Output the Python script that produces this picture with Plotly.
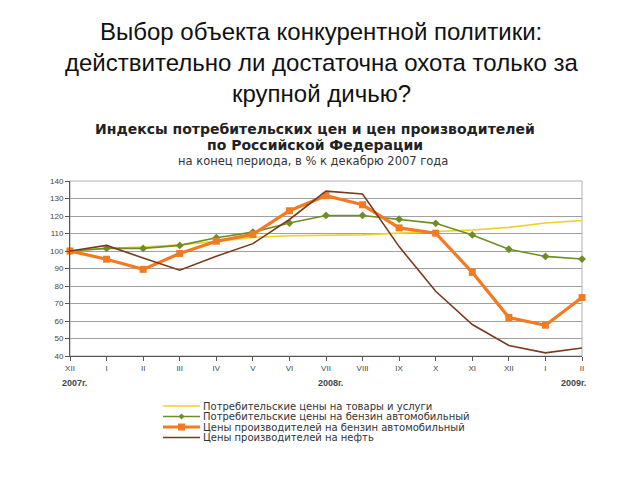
import plotly.graph_objects as go

months = ["XII", "I", "II", "III", "IV", "V", "VI", "VII", "VIII", "IX", "X", "XI", "XII", "I", "II"]
x_idx = list(range(len(months)))

cpi_all = [100, 101.5, 102.3, 103.5, 105.5, 107.8, 108.7, 109.1, 109.2, 110.2, 111, 112, 113.5, 116, 117.4]
cpi_petrol = [100, 101.5, 101.5, 103.2, 107.6, 110.8, 116, 120.3, 120.3, 118.2, 115.8, 109.2, 101, 96.9, 95.4]
ppi_petrol = [100, 95.3, 89.5, 98.6, 105.6, 109.5, 123, 131.6, 126.4, 113.2, 110.2, 87.8, 62, 57.6, 73.4]
ppi_oil = [100, 103.2, 96, 89, 97, 104.2, 118, 134.2, 132.6, 102.5, 77, 58, 46, 41.8, 44.6]
y_ticks = [40, 50, 60, 70, 80, 90, 100, 110, 120, 130, 140]
year_labels = ["2007г.", "2008г.", "2009г."]

names = [
    "Потребительские цены на товары и услуги",
    "Потребительские цены на бензин автомобильный",
    "Цены производителей на бензин автомобильный",
    "Цены производителей на нефть",
]
colors = ["#EFD12E", "#6E8E25", "#F47A22", "#7A3B1C"]

W, H = 640, 480
OFF = 8  # page body margin
# plot area in screen pixels: x 70..582, y 181..356
L, T = 70 - OFF, 181 - OFF
R, B = W - (582 - OFF), H - (356 - OFF)
PW, PH = W - L - R, H - T - B


def px_x(x):
    return (x - OFF - L) / PW


def px_y(y):
    return (H - B - (y - OFF)) / PH


fig = go.Figure()
fig.add_trace(go.Scatter(x=x_idx, y=cpi_all, mode="lines", name=names[0],
                         line=dict(color=colors[0], width=1.6), cliponaxis=False))
fig.add_trace(go.Scatter(x=x_idx, y=cpi_petrol, mode="lines+markers", name=names[1],
                         line=dict(color=colors[1], width=1.6),
                         marker=dict(symbol="diamond", size=6, color=colors[1]), cliponaxis=False))
fig.add_trace(go.Scatter(x=x_idx, y=ppi_petrol, mode="lines+markers", name=names[2],
                         line=dict(color=colors[2], width=3.2),
                         marker=dict(symbol="square", size=7, color=colors[2]), cliponaxis=False))
fig.add_trace(go.Scatter(x=x_idx, y=ppi_oil, mode="lines", name=names[3],
                         line=dict(color=colors[3], width=1.6), cliponaxis=False))

font_family = "Liberation Sans, Arial, sans-serif"

fig.update_layout(
    width=W, height=H,
    paper_bgcolor="white", plot_bgcolor="white",
    margin=dict(l=L, r=R, t=T, b=B, autoexpand=False),
    font=dict(family=font_family, color="#222"),
    showlegend=False,
    xaxis=dict(range=[0, 14], tickvals=x_idx, ticktext=months,
               tickfont=dict(size=8, color="#444"), showgrid=False,
               showline=True, linecolor="#555", linewidth=1, mirror=False,
               ticks="outside", ticklen=4, tickcolor="#555", zeroline=False),
    yaxis=dict(range=[40, 140], tickvals=y_ticks,
               tickfont=dict(size=8, color="#444"), showgrid=True,
               gridcolor="#a0a0a0", gridwidth=1,
               showline=True, linecolor="#555", linewidth=1,
               ticks="outside", ticklen=4, tickcolor="#555", zeroline=False),
)

# frame top/right
fig.add_shape(type="rect", xref="paper", yref="paper", x0=0, y0=0, x1=1, y1=1,
              line=dict(color="#b0b0b0", width=1), layer="below")

title_lines = ["Выбор объекта конкурентной политики:",
               "действительно ли достаточна охота только за",
               "крупной дичью?"]
for yy, line in zip([31, 62, 93], title_lines):
    fig.add_annotation(text=line, xref="paper", yref="paper", x=px_x(321), y=px_y(yy),
                       xanchor="center", yanchor="middle", showarrow=False,
                       font=dict(size=24, color="#111", family=font_family))

fig.add_annotation(text="<b>Индексы потребительских цен и цен производителей</b>",
                   xref="paper", yref="paper", x=px_x(315), y=px_y(129), xanchor="center", yanchor="middle",
                   showarrow=False, font=dict(size=14, color="#222", family="DejaVu Sans, sans-serif"))
fig.add_annotation(text="<b>по Российской Федерации</b>",
                   xref="paper", yref="paper", x=px_x(315), y=px_y(145), xanchor="center", yanchor="middle",
                   showarrow=False, font=dict(size=14, color="#222", family="DejaVu Sans, sans-serif"))
fig.add_annotation(text="на конец периода, в % к декабрю 2007 года",
                   xref="paper", yref="paper", x=px_x(313), y=px_y(160.5), xanchor="center", yanchor="middle",
                   showarrow=False, font=dict(size=11.5, color="#333", family="DejaVu Sans, sans-serif"))

for xv, txt, anc in zip([0, 7, 14], year_labels, ["center", "center", "right"]):
    fig.add_annotation(text="<b>" + txt + "</b>", xref="x", yref="paper", x=xv, y=px_y(383),
                       xanchor=anc, yanchor="middle", showarrow=False, xshift=(6 if anc == "right" else 4),
                       font=dict(size=9, color="#444", family=font_family))

# manual legend
leg_rows = [406, 416.5, 427, 437.5]
lx0, lx1 = 163, 200
for i, (yy, nm, col) in enumerate(zip(leg_rows, names, colors)):
    w = 3.2 if i == 2 else 1.6
    fig.add_shape(type="line", xref="paper", yref="paper",
                  x0=px_x(lx0), x1=px_x(lx1), y0=px_y(yy), y1=px_y(yy),
                  line=dict(color=col, width=w))
    xm = (lx0 + lx1) / 2
    if i == 1:
        d = 3
        path = (f"M {px_x(xm - d)} {px_y(yy)} L {px_x(xm)} {px_y(yy - d)} "
                f"L {px_x(xm + d)} {px_y(yy)} L {px_x(xm)} {px_y(yy + d)} Z")
        fig.add_shape(type="path", xref="paper", yref="paper", path=path,
                      fillcolor=col, line=dict(color=col, width=0))
    if i == 2:
        d = 3.5
        fig.add_shape(type="rect", xref="paper", yref="paper",
                      x0=px_x(xm - d), x1=px_x(xm + d), y0=px_y(yy + d), y1=px_y(yy - d),
                      fillcolor=col, line=dict(color=col, width=0))
    fig.add_annotation(text=nm, xref="paper", yref="paper", x=px_x(201), y=px_y(yy),
                       xanchor="left", yanchor="middle", showarrow=False,
                       font=dict(size=10, color="#333", family="DejaVu Sans, sans-serif"))

fig.write_html("out.html")
